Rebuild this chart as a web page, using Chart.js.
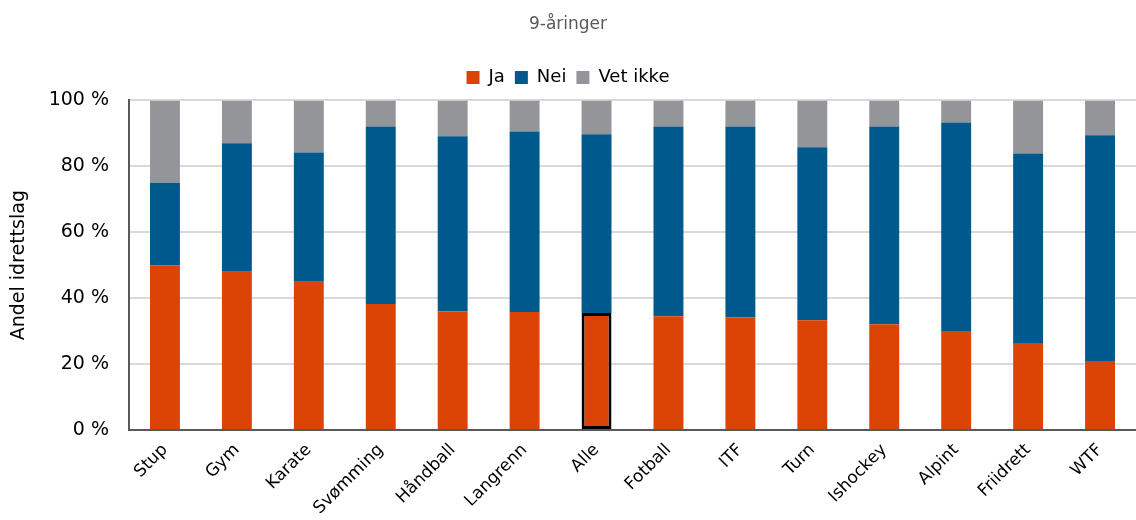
<!DOCTYPE html>
<html>
<head>
<meta charset="utf-8">
<script src="https://cdn.jsdelivr.net/npm/chart.js@4/dist/chart.umd.min.js"></script>
<style>
  html, body { margin: 0; padding: 0; background: #fff; }
  #wrap { width: 1136px; height: 520px; }
</style>
</head>
<body>
<div id="wrap"><canvas id="myChart"></canvas></div>
<script>
// kategorier og verdier (prosent)
var idretter = ['Stup', 'Gym', 'Karate', 'Svømming', 'Håndball', 'Langrenn', 'Alle',
  'Fotball', 'ITF', 'Turn', 'Ishockey', 'Alpint', 'Friidrett', 'WTF'];
var ja = [50, 48, 45, 38.2, 36, 35.8, 35.5, 34.5, 34.2, 33.3, 32.1, 30, 26.4, 20.9];
var nei = [25, 39, 39.2, 53.9, 53.1, 54.8, 54.2, 57.6, 57.9, 52.5, 60, 63.3, 57.5, 68.5];
var vetIkke = [25, 13, 15.8, 7.9, 10.9, 9.4, 10.3, 7.9, 7.9, 14.2, 7.9, 6.7, 16.1, 10.6];
var yTicks = [0, 20, 40, 60, 80, 100];

var fontFam = '"DejaVu Sans", sans-serif';

// svart ramme rundt "Alle"
var jaBorder = idretter.map(n => n === 'Alle' ? 3 : 0);

// litt ekstra luft under legenden
var legendGap = {
  id: 'legendGap',
  beforeInit: function (chart) {
    var orig = chart.legend.fit;
    chart.legend.fit = function () {
      orig.call(this);
      this.height += 4;
    };
  }
};

var ctx = document.getElementById('myChart').getContext('2d');
var myChart = new Chart(ctx, {
  type: 'bar',
  data: {
    labels: idretter,
    datasets: [
      { label: 'Ja', data: ja, backgroundColor: '#dc4405', borderColor: '#000',
        borderWidth: jaBorder, borderSkipped: false },
      { label: 'Nei', data: nei, backgroundColor: '#00598c' },
      { label: 'Vet ikke', data: vetIkke, backgroundColor: '#939598' }
    ]
  },
  options: {
    responsive: true,
    maintainAspectRatio: false,
    animation: false,
    datasets: { bar: { barPercentage: 0.52, categoryPercentage: 0.8 } },
    layout: { padding: { left: 0, right: 0, top: 14, bottom: 0 } },
    plugins: {
      title: {
        display: true, text: '9-åringer', color: '#595959',
        font: { family: fontFam, size: 17, weight: 'normal' },
        padding: { top: 0, bottom: 24 }
      },
      legend: {
        position: 'top',
        labels: {
          color: '#000', boxWidth: 13, boxHeight: 13, padding: 10,
          font: { family: fontFam, size: 18 }
        }
      },
      tooltip: { enabled: false }
    },
    scales: {
      x: {
        stacked: true,
        grid: { display: false },
        border: { color: '#595959', width: 2 },
        ticks: {
          color: '#000', maxRotation: 45, minRotation: 45, padding: 2,
          font: { family: fontFam, size: 17 }
        },
        afterFit: function (s) { s.height = 90; }
      },
      y: {
        stacked: true, min: 0, max: 100,
        afterBuildTicks: function (s) { s.ticks = yTicks.map(v => ({ value: v })); },
        grid: { color: '#d9d9d9', lineWidth: 2, drawTicks: false },
        border: { color: '#595959', width: 2 },
        ticks: {
          color: '#000', padding: 20,
          font: { family: fontFam, size: 19 },
          callback: function (v) { return v + ' %'; }
        },
        title: {
          display: true, text: 'Andel idrettslag', color: '#000',
          font: { family: fontFam, size: 19 }, padding: { top: 8, bottom: 4 }
        },
        afterFit: function (s) { s.width = 129; }
      }
    }
  },
  plugins: [legendGap]
});
</script>
</body>
</html>
